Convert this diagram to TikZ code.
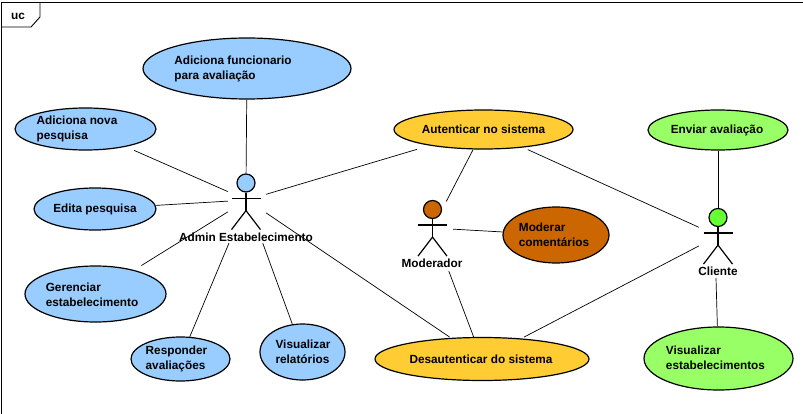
\documentclass[tikz,border=0pt]{standalone}
\usepackage{fontspec}
\setmainfont{Liberation Sans}
\usetikzlibrary{shapes.geometric}
\definecolor{ucblue}{HTML}{99CCFF}
\definecolor{ucgold}{HTML}{FFCC33}
\definecolor{ucbrown}{HTML}{CC6600}
\definecolor{ucgreen}{HTML}{99FF66}
\definecolor{headgreen}{HTML}{66FF33}
\tikzset{
  usecase/.style={draw,ellipse,line width=1.2pt,inner sep=0pt,minimum width=#1},
  uctext/.style={font=\fontsize{11.8}{15}\selectfont\bfseries,align=left,inner sep=0pt},
  actorbox/.style={inner sep=0pt,minimum width=38pt,minimum height=86pt},
  actorhead/.style={draw,circle,line width=1.2pt,inner sep=0pt,minimum size=18pt},
  assoc/.style={line width=.7pt}
}
\begin{document}
\begin{tikzpicture}[x=1pt,y=-1pt]
    \useasboundingbox (0,0) rectangle (803,414);

    % le cadre
    \draw [line width=.9pt] (1,414) -- (1,2) -- (803,2);
    \draw [line width=.9pt] (1,27) -- (31,27) -- (40,17) -- (40,2);
    \node [uctext] (frameT) at (18,16) {uc};

    % les cas
    \node [usecase=208pt,minimum height=61pt,fill=ucblue] (funcio) at (247,68.5) {};
    \node [usecase=141pt,minimum height=42pt,fill=ucblue] (nova) at (85.5,129) {};
    \node [usecase=122pt,minimum height=42pt,fill=ucblue] (edita) at (95,209) {};
    \node [usecase=141pt,minimum height=56pt,fill=ucblue] (gerencia) at (95.5,294) {};
    \node [usecase=99pt,minimum height=44pt,fill=ucblue] (responde) at (180.5,359) {};
    \node [usecase=85pt,minimum height=56pt,fill=ucblue] (relat) at (302.5,352) {};
    \node [usecase=179pt,minimum height=39pt,fill=ucgold] (autent) at (483.5,129.5) {};
    \node [usecase=214pt,minimum height=43pt,fill=ucgold] (desaut) at (482,359) {};
    \node [usecase=106pt,minimum height=56pt,fill=ucbrown] (moderar) at (556,235) {};
    \node [usecase=140pt,minimum height=40pt,fill=ucgreen] (enviar) at (718,130) {};
    \node [usecase=149pt,minimum height=63pt,fill=ucgreen] (estab) at (718.5,358.5) {};

    \node [uctext] (funcioT) at (233,68.5) {Adiciona funcionario\\para avaliação};
    \node [uctext] (novaT) at (77,129) {Adiciona nova\\pesquisa};
    \node [uctext] (editaT) at (95,209) {Edita pesquisa};
    \node [uctext] (gerenciaT) at (92,295) {Gerenciar\\estabelecimento};
    \node [uctext] (respondeT) at (176.5,359) {Responder\\avaliações};
    \node [uctext] (relatT) at (303,352) {Visualizar\\relatórios};
    \node [uctext] (autentT) at (483.5,129.5) {Autenticar no sistema};
    \node [uctext] (desautT) at (481,359) {Desautenticar do sistema};
    \node [uctext] (moderarT) at (554,235) {Moderar\\comentários};
    \node [uctext] (enviarT) at (717,130) {Enviar avaliação};
    \node [uctext] (estabT) at (715.5,358) {Visualizar\\estabelecimentos};

    % les acteurs
    \foreach \who/\hx/\hy/\col in {admin/246/183/ucblue,moder/432.5/209.5/ucbrown,clien/718/217.5/headgreen}{
      \node [actorhead,fill=\col] (\who H) at (\hx,\hy) {};
      \draw [line width=1.2pt] (\who H.south) -- ++(0,18) coordinate (\who Hip);
      \draw [line width=1.2pt] ([xshift=-14.5pt,yshift=-15.5pt]\who H.center) -- ++(29,0);
      \draw [line width=1.2pt] ([xshift=-14.5pt,yshift=-19pt]\who Hip) -- (\who Hip) -- ([xshift=14.5pt,yshift=-19pt]\who Hip);
    }
    \node [uctext] (adminT) at (246,237) {Admin Estabelecimento};
    \node [uctext] (moderT) at (432,263) {Moderador};
    \node [uctext] (clienT) at (718,271) {Cliente};

    \node [actorbox] (adminB) at (247,200) {};
    \node [actorbox,minimum width=41pt] (moderB) at (432.5,228) {};
    \node [actorbox,minimum height=84pt] (clienB) at (718,236) {};

    % les liens
    \draw [assoc] (funcio) -- (adminH);
    \draw [assoc,shorten <=9pt] (nova) -- (adminB);
    \draw [assoc] (edita) -- (adminB);
    \draw [assoc,shorten <=8.5pt] (gerencia) -- (adminB);
    \draw [assoc] (responde) -- (adminB);
    \draw [assoc] (relat) -- (adminB);
    \draw [assoc,shorten <=13pt] (autent) -- (adminB);
    \draw [assoc,shorten <=1.5pt] (desaut) -- (adminB);
    \draw [assoc,shorten >=-15pt] (autent) -- (moderB);
    \draw [assoc] (moderar) -- (moderB);
    \draw [assoc] (desaut) -- (moderB);
    \draw [assoc,shorten <=5pt] (autent) -- (clienB);
    \draw [assoc,shorten <=3pt] (desaut) -- (clienB);
    \draw [assoc] (enviar) -- (clienH);
    \draw [assoc] (estab.92) -- ([xshift=-2pt]clienB.south);
\end{tikzpicture}
\end{document}
